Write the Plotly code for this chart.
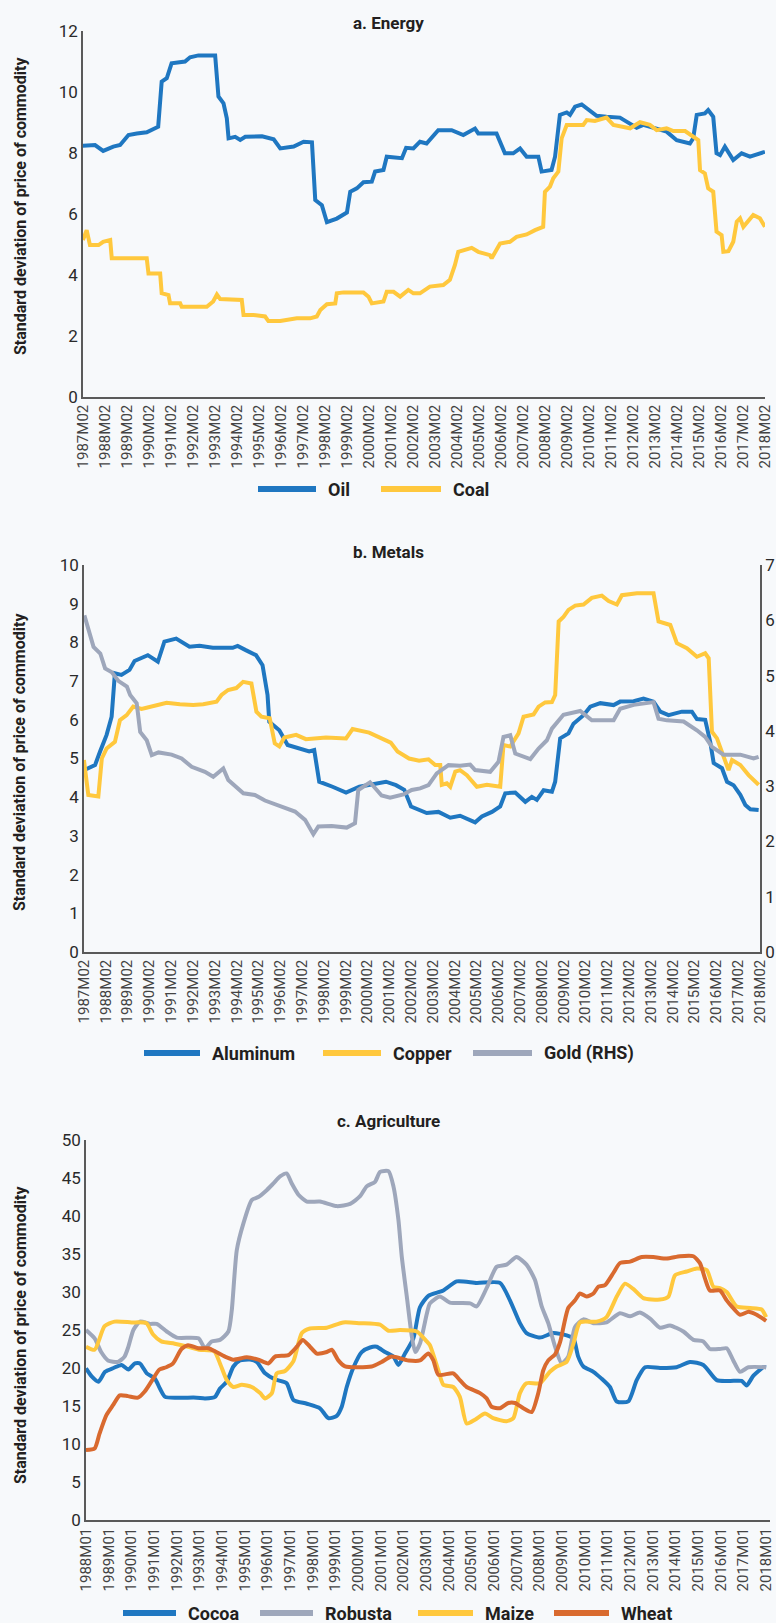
import plotly.graph_objects as go

# ---------------- data (decimal year, value) ----------------
oil = [(1987.08, 8.24), (1987.63, 8.26), (1988.0, 8.07), (1988.46, 8.21), (1988.77, 8.26), (1989.15, 8.59),
       (1989.53, 8.64), (1989.98, 8.68), (1990.5, 8.86), (1990.66, 10.34), (1990.89, 10.45), (1991.11, 10.94),
       (1991.72, 11.0), (1991.95, 11.14), (1992.33, 11.2), (1993.09, 11.2), (1993.24, 9.85), (1993.47, 9.63),
       (1993.62, 9.14), (1993.7, 8.48), (1994.0, 8.53), (1994.23, 8.43), (1994.46, 8.53), (1995.22, 8.55),
       (1995.75, 8.45), (1996.05, 8.15), (1996.66, 8.21), (1997.11, 8.37), (1997.49, 8.35), (1997.64, 6.46),
       (1997.94, 6.29), (1998.17, 5.73), (1998.62, 5.85), (1999.08, 6.05), (1999.23, 6.73), (1999.53, 6.84),
       (1999.83, 7.04), (2000.21, 7.06), (2000.36, 7.39), (2000.74, 7.44), (2000.89, 7.88), (2001.58, 7.83),
       (2001.77, 8.17), (2002.1, 8.15), (2002.4, 8.37), (2002.7, 8.31), (2003.23, 8.75), (2003.84, 8.75),
       (2004.37, 8.59), (2004.9, 8.8), (2005.05, 8.64), (2005.88, 8.64), (2006.26, 7.99), (2006.64, 7.99),
       (2006.95, 8.15), (2007.25, 7.88), (2007.78, 7.88), (2007.93, 7.39), (2008.38, 7.44), (2008.54, 7.88),
       (2008.76, 9.25), (2009.07, 9.33), (2009.22, 9.25), (2009.45, 9.52), (2009.75, 9.59), (2009.98, 9.46),
       (2010.43, 9.22), (2010.88, 9.19), (2011.49, 9.16), (2011.79, 9.03), (2012.25, 8.83), (2012.55, 8.92),
       (2013.01, 8.81), (2013.61, 8.70), (2014.07, 8.42), (2014.67, 8.31), (2014.82, 8.48), (2014.98, 9.25),
       (2015.35, 9.30), (2015.5, 9.41), (2015.73, 9.19), (2015.88, 7.99), (2016.04, 7.93), (2016.26, 8.21),
       (2016.64, 7.77), (2017.02, 7.99), (2017.4, 7.88), (2018.08, 8.04)]

coal = [(1987.08, 5.15), (1987.25, 5.47), (1987.4, 4.98), (1987.79, 4.98), (1988.0, 5.09), (1988.32, 5.15),
        (1988.39, 4.55), (1989.98, 4.55), (1990.06, 4.05), (1990.59, 4.05), (1990.66, 3.4), (1990.97, 3.34),
        (1991.04, 3.07), (1991.5, 3.07), (1991.57, 2.96), (1992.71, 2.96), (1993.0, 3.13), (1993.17, 3.36),
        (1993.32, 3.21), (1994.3, 3.18), (1994.38, 2.69), (1994.83, 2.69), (1995.36, 2.64), (1995.51, 2.49),
        (1996.05, 2.49), (1996.8, 2.58), (1997.41, 2.58), (1997.71, 2.64), (1997.87, 2.85), (1998.17, 3.04),
        (1998.55, 3.07), (1998.62, 3.4), (1998.93, 3.43), (1999.83, 3.43), (2000.06, 3.29), (2000.21, 3.07),
        (2000.74, 3.13), (2000.89, 3.45), (2001.2, 3.45), (2001.5, 3.29), (2001.87, 3.51), (2002.1, 3.4),
        (2002.4, 3.4), (2002.85, 3.62), (2003.46, 3.67), (2003.76, 3.84), (2003.99, 4.33), (2004.14, 4.76),
        (2004.75, 4.89), (2005.05, 4.76), (2005.58, 4.65), (2005.66, 4.55), (2006.04, 5.03), (2006.49, 5.09),
        (2006.79, 5.25), (2007.25, 5.33), (2007.63, 5.47), (2008.0, 5.58), (2008.08, 6.73), (2008.31, 6.9),
        (2008.46, 7.17), (2008.69, 7.39), (2008.84, 8.48), (2009.07, 8.92), (2009.82, 8.92), (2009.98, 9.08),
        (2010.35, 9.05), (2010.88, 9.16), (2011.19, 8.92), (2011.95, 8.81), (2012.4, 9.01), (2012.85, 8.92),
        (2013.16, 8.75), (2013.61, 8.81), (2013.92, 8.72), (2014.45, 8.72), (2015.05, 8.42), (2015.13, 7.44),
        (2015.35, 7.33), (2015.5, 6.84), (2015.73, 6.73), (2015.88, 5.42), (2016.11, 5.31), (2016.19, 4.76),
        (2016.42, 4.78), (2016.64, 5.09), (2016.8, 5.75), (2016.95, 5.86), (2017.1, 5.58), (2017.55, 5.97),
        (2017.85, 5.86), (2018.08, 5.58)]

aluminum = [(1987.08, 4.70), (1987.59, 4.83), (1987.82, 5.18), (1988.12, 5.61), (1988.35, 6.08), (1988.5, 7.2),
            (1988.8, 7.16), (1989.17, 7.29), (1989.4, 7.52), (1990.01, 7.67), (1990.47, 7.5), (1990.77, 8.02),
            (1991.31, 8.1), (1991.92, 7.89), (1992.38, 7.91), (1992.99, 7.86), (1993.9, 7.86), (1994.13, 7.91),
            (1994.5, 7.8), (1994.97, 7.67), (1995.27, 7.41), (1995.5, 6.64), (1995.58, 5.95), (1996.04, 5.73),
            (1996.42, 5.35), (1996.96, 5.27), (1997.41, 5.18), (1997.64, 5.22), (1997.87, 4.40), (1998.48, 4.27),
            (1999.1, 4.12), (1999.71, 4.27), (2000.47, 4.36), (2000.93, 4.40), (2001.39, 4.31), (2001.77, 4.19),
            (2002.08, 3.76), (2002.5, 3.67), (2002.8, 3.59), (2003.34, 3.62), (2003.88, 3.47), (2004.33, 3.52),
            (2005.02, 3.35), (2005.33, 3.50), (2005.79, 3.62), (2006.17, 3.76), (2006.4, 4.10), (2006.86, 4.12),
            (2007.32, 3.88), (2007.62, 4.01), (2007.85, 3.93), (2008.16, 4.18), (2008.54, 4.14), (2008.69, 4.40),
            (2008.92, 5.52), (2009.3, 5.65), (2009.53, 5.9), (2009.99, 6.12), (2010.3, 6.34), (2010.76, 6.43),
            (2011.37, 6.38), (2011.67, 6.47), (2012.29, 6.48), (2012.74, 6.55), (2013.2, 6.47), (2013.51, 6.21),
            (2013.89, 6.12), (2014.5, 6.21), (2014.96, 6.21), (2015.19, 6.02), (2015.57, 6.0), (2015.8, 5.43),
            (2015.96, 4.88), (2016.34, 4.75), (2016.57, 4.40), (2016.87, 4.31), (2017.18, 4.06), (2017.41, 3.80),
            (2017.64, 3.69), (2018.02, 3.67)]

copper = [(1987.08, 4.96), (1987.28, 4.06), (1987.74, 4.02), (1987.9, 5.0), (1988.12, 5.26), (1988.5, 5.43),
          (1988.73, 5.99), (1989.04, 6.12), (1989.34, 6.34), (1989.72, 6.28), (1989.95, 6.31), (1990.56, 6.4),
          (1990.87, 6.44), (1991.48, 6.40), (1992.09, 6.38), (1992.55, 6.40), (1993.16, 6.47), (1993.39, 6.64),
          (1993.69, 6.77), (1994.07, 6.82), (1994.38, 6.98), (1994.76, 6.94), (1994.99, 6.21), (1995.22, 6.08),
          (1995.6, 6.04), (1995.83, 5.39), (1996.04, 5.31), (1996.27, 5.54), (1996.42, 5.56), (1996.81, 5.61),
          (1997.26, 5.50), (1998.18, 5.54), (1999.1, 5.52), (1999.4, 5.76), (2000.16, 5.67), (2000.7, 5.54),
          (2001.15, 5.41), (2001.46, 5.18), (2001.99, 5.0), (2002.45, 4.94), (2002.88, 4.98), (2003.19, 4.83),
          (2003.42, 4.83), (2003.49, 4.32), (2003.72, 4.36), (2003.88, 4.27), (2004.11, 4.66), (2004.33, 4.70),
          (2004.64, 4.57), (2005.1, 4.27), (2005.56, 4.32), (2006.17, 4.27), (2006.32, 5.35), (2006.63, 5.31),
          (2007.01, 5.65), (2007.24, 6.08), (2007.7, 6.14), (2007.93, 6.34), (2008.23, 6.45), (2008.54, 6.46),
          (2008.69, 6.64), (2008.85, 8.54), (2009.07, 8.66), (2009.3, 8.84), (2009.61, 8.95), (2009.99, 8.98),
          (2010.37, 9.15), (2010.83, 9.21), (2011.14, 9.07), (2011.52, 8.98), (2011.75, 9.22), (2012.44, 9.27),
          (2013.2, 9.27), (2013.43, 8.54), (2013.97, 8.45), (2014.27, 7.98), (2014.73, 7.85), (2015.19, 7.63),
          (2015.57, 7.72), (2015.73, 7.59), (2015.88, 5.69), (2016.11, 5.52), (2016.41, 5.09), (2016.64, 4.70),
          (2016.8, 4.96), (2017.18, 4.83), (2017.56, 4.57), (2018.02, 4.32)]

gold = [(1987.1, 6.09), (1987.3, 5.82), (1987.52, 5.52), (1987.83, 5.40), (1988.05, 5.13), (1988.36, 5.06),
        (1988.67, 4.90), (1989.05, 4.80), (1989.2, 4.65), (1989.5, 4.50), (1989.66, 3.98), (1989.96, 3.83),
        (1990.19, 3.56), (1990.5, 3.61), (1991.1, 3.57), (1991.56, 3.50), (1992.02, 3.35), (1992.63, 3.26),
        (1993.01, 3.17), (1993.47, 3.32), (1993.7, 3.11), (1994.39, 2.87), (1994.92, 2.84), (1995.38, 2.74),
        (1995.99, 2.66), (1996.76, 2.54), (1997.22, 2.39), (1997.6, 2.13), (1997.83, 2.27), (1998.44, 2.28),
        (1999.13, 2.25), (1999.51, 2.33), (1999.66, 2.93), (2000.2, 3.07), (2000.73, 2.83), (2001.12, 2.79),
        (2001.73, 2.85), (2002.11, 2.93), (2002.5, 2.96), (2002.88, 3.02), (2003.26, 3.23), (2003.8, 3.38),
        (2004.33, 3.37), (2004.79, 3.39), (2005.02, 3.29), (2005.71, 3.26), (2006.09, 3.44), (2006.32, 3.89),
        (2006.63, 3.92), (2006.86, 3.59), (2007.55, 3.49), (2007.93, 3.68), (2008.31, 3.83), (2008.54, 4.04),
        (2009.07, 4.29), (2009.84, 4.36), (2010.37, 4.19), (2011.37, 4.19), (2011.67, 4.40), (2012.29, 4.47),
        (2013.2, 4.52), (2013.43, 4.22), (2013.81, 4.19), (2014.58, 4.17), (2015.19, 4.01), (2015.57, 3.89),
        (2015.88, 3.71), (2016.41, 3.57), (2017.18, 3.57), (2017.79, 3.50), (2018.02, 3.53)]

cocoa = [(1988.0, 19.96), (1988.25, 18.9), (1988.55, 18.2), (1988.84, 19.5), (1989.21, 20.0), (1989.57, 20.4),
         (1989.87, 19.8), (1990.16, 20.6), (1990.38, 20.6), (1990.68, 19.3), (1991.04, 18.6), (1991.26, 17.3),
         (1991.49, 16.2), (1992.15, 16.1), (1992.88, 16.1), (1993.25, 16.0), (1993.69, 16.2), (1993.91, 17.3),
         (1994.21, 18.2), (1994.5, 20.2), (1994.79, 21.0), (1995.24, 21.1), (1995.53, 20.8), (1995.9, 19.3),
         (1996.34, 18.5), (1996.85, 18.0), (1997.15, 15.8), (1997.74, 15.3), (1998.32, 14.7), (1998.69, 13.4),
         (1999.06, 13.7), (1999.28, 14.9), (1999.5, 17.5), (1999.8, 20.1), (2000.16, 22.1), (2000.53, 22.7),
         (2000.82, 22.8), (2001.19, 22.1), (2001.56, 21.5), (2001.78, 20.4), (2002.07, 21.9), (2002.44, 23.9),
         (2002.73, 28.0), (2003.1, 29.5), (2003.76, 30.2), (2004.35, 31.4), (2005.23, 31.2), (2006.26, 31.2),
         (2006.7, 28.9), (2007.14, 25.9), (2007.43, 24.6), (2008.02, 24.0), (2008.61, 24.6), (2009.2, 24.3),
         (2009.5, 23.9), (2009.71, 21.5), (2009.94, 20.2), (2010.38, 19.5), (2010.74, 18.6), (2011.11, 17.5),
         (2011.41, 15.6), (2011.92, 15.6), (2012.29, 18.4), (2012.66, 20.1), (2013.32, 20.0), (2014.05, 20.1),
         (2014.64, 20.8), (2015.23, 20.4), (2015.82, 18.4), (2016.41, 18.3), (2016.92, 18.3), (2017.14, 17.7),
         (2017.44, 19.0), (2017.88, 20.1), (2018.0, 20.1)]

robusta = [(1988.0, 25.0), (1988.38, 23.9), (1988.67, 22.1), (1988.97, 21.0), (1989.41, 20.8), (1989.7, 21.5),
           (1989.87, 22.8), (1990.09, 25.0), (1990.38, 26.1), (1990.82, 25.8), (1991.12, 25.8), (1991.56, 24.8),
           (1992.0, 24.0), (1992.96, 23.9), (1993.25, 22.6), (1993.54, 23.5), (1993.91, 23.7), (1994.28, 24.8),
           (1994.43, 27.6), (1994.65, 35.5), (1994.94, 39.0), (1995.31, 42.1), (1995.6, 42.5), (1995.97, 43.4),
           (1996.27, 44.3), (1996.56, 45.2), (1996.85, 45.6), (1997.07, 44.3), (1997.37, 42.8), (1997.74, 41.9),
           (1998.32, 41.9), (1999.06, 41.3), (1999.65, 41.6), (2000.09, 42.6), (2000.38, 43.9), (2000.75, 44.5),
           (2000.97, 45.8), (2001.34, 45.9), (2001.56, 43.9), (2001.78, 39.5), (2001.93, 34.6), (2002.15, 29.4),
           (2002.37, 24.2), (2002.52, 22.1), (2002.74, 23.3), (2003.03, 27.1), (2003.17, 28.5), (2003.61, 29.4),
           (2004.05, 28.6), (2004.94, 28.5), (2005.23, 28.1), (2005.67, 30.5), (2006.11, 33.3), (2006.55, 33.6),
           (2006.99, 34.6), (2007.43, 33.6), (2007.8, 31.6), (2008.1, 28.1), (2008.39, 25.9), (2008.69, 22.8),
           (2008.98, 20.6), (2009.27, 21.5), (2009.57, 25.4), (2009.94, 26.4), (2010.38, 25.9), (2010.96, 26.0),
           (2011.55, 27.2), (2012.0, 26.8), (2012.43, 27.3), (2012.88, 26.5), (2013.32, 25.3), (2013.76, 25.6),
           (2014.35, 24.8), (2014.79, 23.7), (2015.23, 23.5), (2015.52, 22.5), (2015.96, 22.5), (2016.26, 22.6),
           (2016.55, 21.0), (2016.85, 19.5), (2017.22, 20.1), (2018.0, 20.1)]

maize = [(1988.0, 22.8), (1988.38, 22.4), (1988.82, 25.5), (1989.26, 26.1), (1990.0, 26.0), (1990.66, 25.9),
         (1990.96, 24.4), (1991.32, 23.5), (1991.91, 23.2), (1992.5, 22.8), (1993.0, 22.4), (1993.66, 22.2),
         (1993.91, 20.6), (1994.21, 18.4), (1994.5, 17.5), (1994.87, 17.8), (1995.31, 17.5), (1995.68, 16.7),
         (1995.9, 16.0), (1996.2, 16.7), (1996.41, 19.3), (1996.78, 19.6), (1997.15, 20.9), (1997.52, 24.6),
         (1997.88, 25.2), (1998.62, 25.3), (1999.35, 26.0), (2000.09, 25.9), (2000.97, 25.7), (2001.34, 24.9),
         (2001.85, 25.0), (2002.59, 24.8), (2003.03, 23.5), (2003.17, 23.0), (2003.54, 19.7), (2003.76, 17.8),
         (2004.2, 17.5), (2004.49, 16.2), (2004.79, 12.7), (2005.16, 13.2), (2005.6, 14.0), (2005.96, 13.4),
         (2006.55, 13.0), (2006.85, 13.4), (2007.14, 16.7), (2007.43, 18.0), (2008.02, 18.0), (2008.46, 19.5),
         (2008.76, 20.2), (2009.2, 20.8), (2009.5, 23.2), (2009.79, 26.0), (2010.52, 26.1), (2010.96, 26.7),
         (2011.41, 29.4), (2011.77, 31.1), (2012.14, 30.4), (2012.58, 29.2), (2013.32, 29.0), (2013.69, 29.4),
         (2013.98, 32.2), (2014.49, 32.7), (2014.94, 33.1), (2015.38, 32.9), (2015.67, 30.7), (2015.96, 30.5),
         (2016.26, 30.0), (2016.7, 28.1), (2017.29, 27.9), (2017.8, 27.7), (2018.0, 26.7)]

wheat = [(1988.0, 9.2), (1988.38, 9.4), (1988.6, 11.4), (1988.9, 13.8), (1989.19, 15.1), (1989.49, 16.4),
         (1989.85, 16.3), (1990.29, 16.1), (1990.59, 16.9), (1990.88, 18.2), (1991.24, 19.8), (1991.54, 20.1),
         (1991.84, 20.6), (1992.21, 22.5), (1992.5, 23.0), (1992.96, 22.6), (1993.4, 22.6), (1993.69, 22.2),
         (1994.13, 21.5), (1994.5, 21.1), (1995.09, 21.4), (1995.6, 21.1), (1996.04, 20.6), (1996.34, 21.5),
         (1996.93, 21.7), (1997.3, 22.8), (1997.56, 23.7), (1997.88, 22.8), (1998.18, 21.9), (1998.62, 22.1),
         (1998.84, 22.4), (1999.13, 21.0), (1999.43, 20.2), (2000.6, 20.2), (2001.04, 20.8), (2001.48, 21.5),
         (2002.22, 21.0), (2002.73, 21.0), (2003.1, 21.9), (2003.32, 21.0), (2003.54, 19.1), (2004.2, 19.3),
         (2004.49, 18.4), (2004.79, 17.5), (2005.38, 16.7), (2005.67, 16.0), (2005.89, 14.9), (2006.26, 14.7),
         (2006.63, 15.4), (2006.92, 15.4), (2007.29, 14.7), (2007.66, 14.2), (2007.95, 16.7), (2008.17, 19.7),
         (2008.39, 21.0), (2008.69, 21.8), (2008.91, 23.4), (2009.27, 27.9), (2009.57, 28.9), (2009.79, 29.8),
         (2010.08, 29.4), (2010.38, 29.8), (2010.6, 30.7), (2010.89, 30.9), (2011.26, 32.5), (2011.55, 33.8),
         (2012.0, 34.0), (2012.51, 34.6), (2013.02, 34.6), (2013.61, 34.4), (2014.2, 34.7), (2014.79, 34.7),
         (2015.08, 33.8), (2015.3, 31.8), (2015.52, 30.2), (2015.96, 30.2), (2016.26, 28.9), (2016.48, 28.1),
         (2016.85, 27.0), (2017.22, 27.4), (2017.58, 27.0), (2018.0, 26.2)]

years_ab = list(range(1987, 2019))
ticks_ab = [f"{y}M02" for y in years_ab]
years_c = list(range(1988, 2019))
ticks_c = [f"{y}M01" for y in years_c]

panel_titles = ["a. Energy", "b. Metals", "c. Agriculture"]
ytitle = "Standard deviation of price of commodity"

BLUE, YELLOW, GREY, ORANGE = "#1f77c1", "#ffc83d", "#9ea7bb", "#d96a2f"

# ---------------- layout helpers ----------------
W, H = 776, 1623
FONT = "Roboto, sans-serif"
BG = "#f7f9fb"
AX = "#5a5a5a"


def fx(p):
    return p / W


def fy(p):
    return 1 - p / H


fig = go.Figure()


def add(pairs, name, color, xa, ya, shape="linear"):
    fig.add_trace(go.Scatter(
        x=[p[0] for p in pairs], y=[p[1] for p in pairs], name=name, mode="lines",
        line=dict(color=color, width=4, shape=shape, smoothing=0.6 if shape == "spline" else None),
        xaxis=xa, yaxis=ya, showlegend=False, hoverinfo="skip"))


add(oil, "Oil", BLUE, "x", "y")
add(coal, "Coal", YELLOW, "x", "y")
add(aluminum, "Aluminum", BLUE, "x2", "y2")
add(copper, "Copper", YELLOW, "x2", "y2")
add(gold, "Gold (RHS)", GREY, "x2", "y3")
add(cocoa, "Cocoa", BLUE, "x3", "y4", "spline")
add(robusta, "Robusta", GREY, "x3", "y4", "spline")
add(maize, "Maize", YELLOW, "x3", "y4", "spline")
add(wheat, "Wheat", ORANGE, "x3", "y4", "spline")

xcommon = dict(showline=True, linecolor=AX, linewidth=1.5, showgrid=False, zeroline=False, automargin=False,
               ticks="", tickangle=-90, tickfont=dict(family=FONT, size=15, color="#444444"))
ycommon = dict(showline=True, linecolor=AX, linewidth=1.5, showgrid=False, zeroline=False, automargin=False,
               ticks="", tickfont=dict(family=FONT, size=17, color="#2a2a2a"))

fig.update_layout(
    template="plotly",
    width=W, height=H, margin=dict(l=0, r=0, t=0, b=0, pad=0), autosize=False,
    paper_bgcolor=BG, plot_bgcolor="rgba(0,0,0,0)", showlegend=False,
    xaxis=dict(domain=[fx(83), fx(765)], anchor="y", range=[1987.083, 2018.083],
               tickvals=[y + 1 / 12 for y in years_ab], ticktext=ticks_ab, **xcommon),
    yaxis=dict(domain=[fy(397), fy(31)], anchor="x", range=[0, 12], dtick=2, **ycommon),
    xaxis2=dict(domain=[fx(84), fx(760)], anchor="y2", range=[1987.083, 2018.083],
                tickvals=[y + 1 / 12 for y in years_ab], ticktext=ticks_ab, **xcommon),
    yaxis2=dict(domain=[fy(952), fy(565)], anchor="x2", range=[0, 10], dtick=1, **ycommon),
    yaxis3=dict(domain=[fy(952), fy(565)], overlaying="y2", anchor="x2", side="right",
                range=[0, 7], dtick=1, **ycommon),
    xaxis3=dict(domain=[fx(86), fx(770)], anchor="y4", range=[1988.0, 2018.17],
                tickvals=[float(y) for y in years_c], ticktext=ticks_c, **xcommon),
    yaxis4=dict(domain=[fy(1520), fy(1140)], anchor="x3", range=[0, 50], dtick=5, **ycommon),
)

annots = []
for title, ypix in zip(panel_titles, [23, 552, 1121]):
    annots.append(dict(text=f"<b>{title}</b>", x=0.5, y=fy(ypix), xref="paper", yref="paper",
                       xanchor="center", yanchor="middle", showarrow=False,
                       font=dict(family=FONT, size=17, color="#231f20")))
for ypix in [206, 762, 1335]:
    annots.append(dict(text=f"<b>{ytitle}</b>", x=fx(20), y=fy(ypix), xref="paper", yref="paper",
                       xanchor="center", yanchor="middle", textangle=-90, showarrow=False,
                       font=dict(family=FONT, size=16, color="#231f20")))

# manual legends: (name, color, line start px, line end px)
legends = [
    (489, [("Oil", BLUE, 258, 316), ("Coal", YELLOW, 381, 441)]),
    (1053, [("Aluminum", BLUE, 144, 200), ("Copper", YELLOW, 323, 381), ("Gold (RHS)", GREY, 473, 532)]),
    (1613, [("Cocoa", BLUE, 123, 176), ("Robusta", GREY, 260, 313), ("Maize", YELLOW, 418, 473),
            ("Wheat", ORANGE, 554, 609)]),
]
shapes = []
for ypix, items in legends:
    for name, color, x0, x1 in items:
        shapes.append(dict(type="line", xref="paper", yref="paper", x0=fx(x0), x1=fx(x1),
                           y0=fy(ypix), y1=fy(ypix), line=dict(color=color, width=6)))
        annots.append(dict(text=f"<b>{name}</b>", x=fx(x1 + 10), y=fy(ypix), xref="paper", yref="paper",
                           xanchor="left", yanchor="middle", showarrow=False,
                           font=dict(family=FONT, size=18, color="#231f20")))

fig.update_layout(annotations=annots, shapes=shapes)
fig.write_html("out.html", config={"displayModeBar": False},
               post_script="document.body.style.margin='0';document.body.style.background='%s';" % BG)
